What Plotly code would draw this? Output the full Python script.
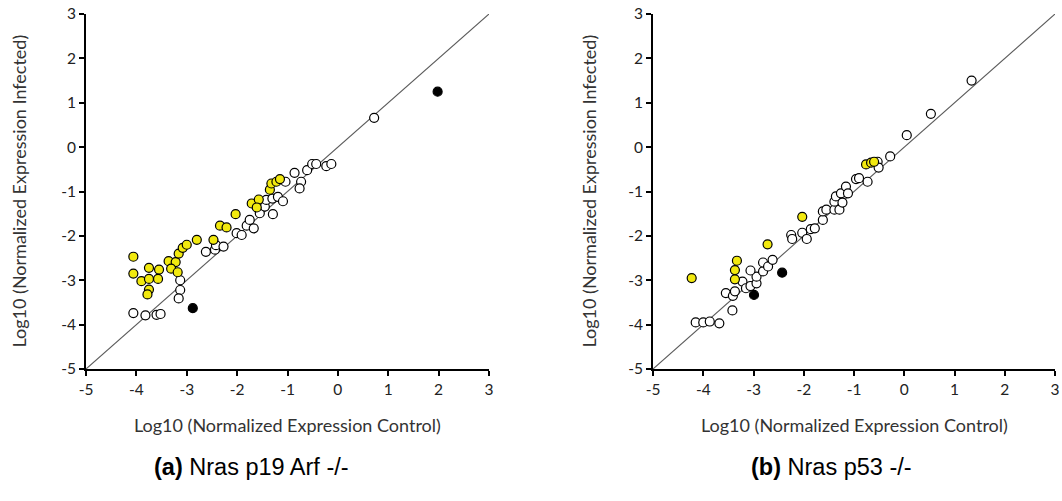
import plotly.graph_objects as go

W, H = 1062, 501

# ---- Data: panel (a) Nras p19 Arf -/- ----
a_yellow_x = [-4.06, -4.06, -3.90, -3.75, -3.75, -3.55, -3.57, -3.75, -3.78, -3.36, -3.22, -3.31, -3.18, -3.16,
              -3.08, -3.00, -2.80, -2.47, -2.34, -2.21, -2.03, -1.71, -1.57, -1.61, -1.35, -1.32, -1.22, -1.15]
a_yellow_y = [-2.47, -2.85, -3.02, -2.72, -2.97, -2.76, -2.97, -3.21, -3.32, -2.57, -2.59, -2.74, -2.82, -2.40,
              -2.27, -2.20, -2.09, -2.09, -1.77, -1.81, -1.51, -1.27, -1.18, -1.36, -0.96, -0.82, -0.78, -0.72]
a_open_x = [-4.06, -3.82, -3.60, -3.52, -3.13, -3.13, -3.16, -2.62, -2.44, -2.42, -2.27, -2.01, -1.91, -1.81,
            -1.75, -1.67, -1.55, -1.45, -1.42, -1.30, -1.19, -1.09, -1.29, -1.04, -0.86, -0.73, -0.76, -0.61,
            -0.51, -0.43, -0.23, -0.13, 0.72]
a_open_y = [-3.74, -3.79, -3.78, -3.76, -3.00, -3.22, -3.41, -2.36, -2.31, -2.21, -2.24, -1.94, -1.98, -1.77,
            -1.64, -1.83, -1.49, -1.34, -1.19, -1.16, -1.12, -1.22, -1.51, -0.78, -0.58, -0.78, -0.93, -0.52,
            -0.38, -0.38, -0.43, -0.38, 0.66]
a_black_x = [-2.88, 1.98]
a_black_y = [-3.63, 1.25]

# ---- Data: panel (b) Nras p53 -/- ----
b_yellow_x = [-4.23, -3.33, -3.37, -3.37, -2.72, -2.03, -0.76, -0.66, -0.60]
b_yellow_y = [-2.95, -2.56, -2.77, -2.98, -2.19, -1.57, -0.39, -0.35, -0.33]
b_open_x = [-4.15, -4.00, -3.87, -3.68, -3.55, -3.41, -3.42, -3.37, -3.22, -3.15, -3.06, -2.94, -2.94, -3.06,
            -2.81, -2.81, -2.71, -2.62, -2.25, -2.23, -2.03, -1.94, -1.86, -1.78, -1.62, -1.62, -1.55, -1.39,
            -1.29, -1.39, -1.36, -1.26, -1.23, -1.16, -1.12, -0.96, -0.90, -0.73, -0.53, -0.51, -0.28, 0.05,
            0.53, 1.34]
b_open_y = [-3.95, -3.95, -3.93, -3.97, -3.29, -3.35, -3.68, -3.25, -3.03, -3.18, -3.13, -3.07, -2.92, -2.78,
            -2.80, -2.60, -2.69, -2.54, -1.98, -2.07, -1.93, -2.07, -1.85, -1.83, -1.64, -1.45, -1.41, -1.41,
            -1.41, -1.23, -1.11, -1.04, -1.25, -0.89, -1.04, -0.72, -0.70, -0.78, -0.33, -0.46, -0.21, 0.27,
            0.75, 1.50]
b_black_x = [-2.99, -2.43]
b_black_y = [-3.33, -2.83]

tick_vals = [-5, -4, -3, -2, -1, 0, 1, 2, 3]
tick_text = ["-5", "-4", "-3", "-2", "-1", "0", "1", "2", "3"]
diag = [-5, 3]

x_title = "Log10 (Normalized Expression Control)"
y_title = "Log10 (Normalized Expression Infected)"
captions = ["<b>(a)</b> Nras p19 Arf -/-", "<b>(b)</b> Nras p53 -/-"]

YELLOW = "#f2e90f"
MS = 9

fig = go.Figure()

panels = [
    ("x", "y", a_yellow_x, a_yellow_y, a_open_x, a_open_y, a_black_x, a_black_y),
    ("x2", "y2", b_yellow_x, b_yellow_y, b_open_x, b_open_y, b_black_x, b_black_y),
]
for xa, ya, yx, yy, ox, oy, kx, ky in panels:
    fig.add_trace(go.Scatter(x=diag, y=diag, mode="lines", xaxis=xa, yaxis=ya,
                             line=dict(color="#5a5a5a", width=1.1), showlegend=False, hoverinfo="skip"))
    fig.add_trace(go.Scatter(x=ox, y=oy, mode="markers", xaxis=xa, yaxis=ya, showlegend=False,
                             marker=dict(size=MS, color="white", line=dict(color="black", width=1.2))))
    fig.add_trace(go.Scatter(x=yx, y=yy, mode="markers", xaxis=xa, yaxis=ya, showlegend=False,
                             marker=dict(size=MS, color=YELLOW, line=dict(color="black", width=1.2))))
    fig.add_trace(go.Scatter(x=kx, y=ky, mode="markers", xaxis=xa, yaxis=ya, showlegend=False,
                             marker=dict(size=MS, color="black", line=dict(color="black", width=1.2))))

def px_x(p):
    return p / W

def px_y(p):
    return 1 - p / H

ydom = [px_y(369), px_y(14)]
xdoms = [[px_x(86), px_x(489)], [px_x(653), px_x(1055)]]

axis_common = dict(range=[-5, 3], tickmode="array", tickvals=tick_vals, ticktext=tick_text,
                   showgrid=False, zeroline=False, showline=True, linecolor="black", linewidth=2,
                   ticks="outside", ticklen=5, tickwidth=2, tickcolor="black", automargin=False,
                   tickfont=dict(family="Lato", size=15.5, color="#222"), fixedrange=True)

fig.update_layout(
    width=W, height=H, margin=dict(l=0, r=0, t=0, b=0),
    plot_bgcolor="white", paper_bgcolor="white",
    xaxis=dict(domain=xdoms[0], anchor="y", **axis_common),
    yaxis=dict(domain=ydom, anchor="x", **axis_common),
    xaxis2=dict(domain=xdoms[1], anchor="y2", **axis_common),
    yaxis2=dict(domain=ydom, anchor="x2", **axis_common),
)

title_font = dict(family="Lato", size=18, color="#333")
cap_font = dict(family="Liberation Sans", size=23.5, color="black")
for i, (xd, xc) in enumerate(zip(xdoms, [18, 588])):
    cx = (xd[0] + xd[1]) / 2
    fig.add_annotation(x=cx, y=px_y(425), xref="paper", yref="paper", text=x_title,
                       showarrow=False, font=title_font, xanchor="center", yanchor="middle")
    fig.add_annotation(x=px_x(xc), y=(ydom[0] + ydom[1]) / 2, xref="paper", yref="paper", text=y_title,
                       showarrow=False, font=title_font, textangle=-90, xanchor="center", yanchor="middle")
    fig.add_annotation(x=px_x([251, 831][i]), y=px_y(467), xref="paper", yref="paper", text=captions[i],
                       showarrow=False, font=cap_font, xanchor="center", yanchor="middle")

fig.write_html("out.html", config={"displayModeBar": False},
               post_script="document.body.style.margin='0px';document.body.style.overflow='hidden';")
